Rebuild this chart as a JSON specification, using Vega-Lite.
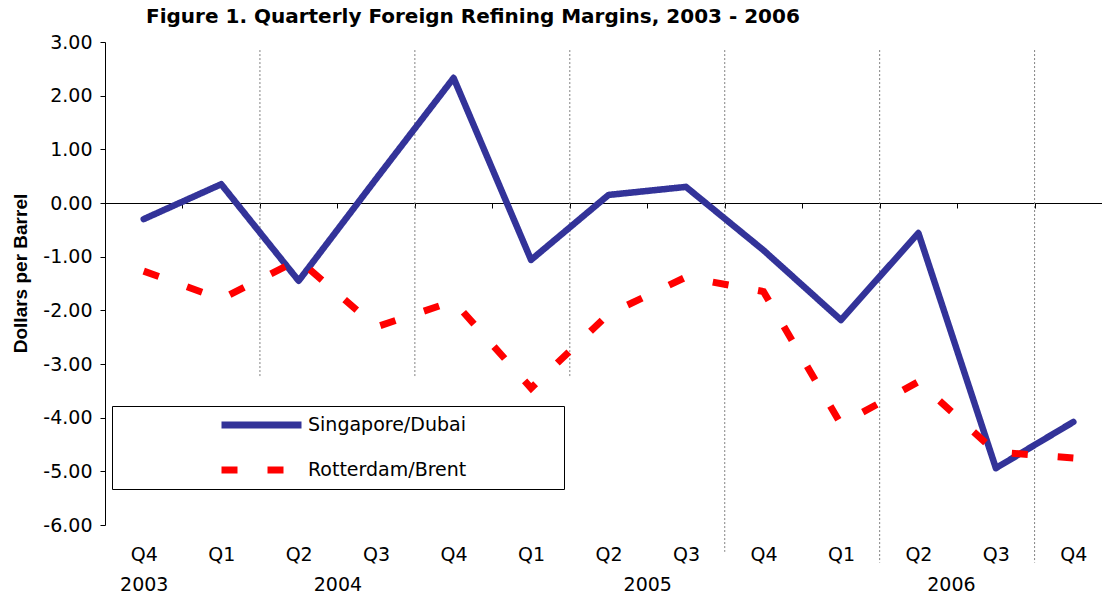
{
  "$schema": "https://vega.github.io/schema/vega-lite/v6.json",
  "width": 997,
  "height": 483,
  "autosize": {"type": "none"},
  "padding": {"left": 105, "top": 42, "right": 0, "bottom": 75},
  "background": "white",
  "config": {
    "font": "DejaVu Sans",
    "view": {"stroke": null},
    "axis": {
      "labelColor": "black",
      "labelFont": "DejaVu Sans",
      "labelFontSize": 19,
      "domainColor": "black",
      "tickColor": "black",
      "grid": false,
      "labelFlush": false,
      "labelOverlap": false,
      "labelBound": false
    },
    "legend": {
      "labelFont": "DejaVu Sans",
      "labelFontSize": 19,
      "labelColor": "black",
      "symbolType": "stroke",
      "symbolSize": 6400,
      "symbolStrokeWidth": 7,
      "clipHeight": 22,
      "rowPadding": 23,
      "labelOffset": 3,
      "symbolOffset": 98,
      "padding": 8,
      "strokeColor": "black",
      "fillColor": "white",
      "titleOrient": "right",
      "titlePadding": 90,
      "titleFontSize": 19
    }
  },
  "title": {
    "text": "Figure 1. Quarterly Foreign Refining Margins, 2003 - 2006",
    "anchor": "start",
    "dx": 135,
    "dy": 26,
    "font": "DejaVu Sans",
    "fontSize": 20,
    "fontWeight": "bold",
    "color": "black",
    "baseline": "alphabetic",
    "offset": 16
  },
  "datasets": {
    "margins": [
      {"t": 0, "quarter": "Q4", "year": "2003", "series": "Singapore/Dubai", "value": -0.30},
      {"t": 1, "quarter": "Q1", "year": "2004", "series": "Singapore/Dubai", "value": 0.35},
      {"t": 2, "quarter": "Q2", "year": "2004", "series": "Singapore/Dubai", "value": -1.45},
      {"t": 3, "quarter": "Q3", "year": "2004", "series": "Singapore/Dubai", "value": 0.45},
      {"t": 4, "quarter": "Q4", "year": "2004", "series": "Singapore/Dubai", "value": 2.33},
      {"t": 5, "quarter": "Q1", "year": "2005", "series": "Singapore/Dubai", "value": -1.06},
      {"t": 6, "quarter": "Q2", "year": "2005", "series": "Singapore/Dubai", "value": 0.15},
      {"t": 7, "quarter": "Q3", "year": "2005", "series": "Singapore/Dubai", "value": 0.30},
      {"t": 8, "quarter": "Q4", "year": "2005", "series": "Singapore/Dubai", "value": -0.88},
      {"t": 9, "quarter": "Q1", "year": "2006", "series": "Singapore/Dubai", "value": -2.18},
      {"t": 10, "quarter": "Q2", "year": "2006", "series": "Singapore/Dubai", "value": -0.56},
      {"t": 11, "quarter": "Q3", "year": "2006", "series": "Singapore/Dubai", "value": -4.94},
      {"t": 12, "quarter": "Q4", "year": "2006", "series": "Singapore/Dubai", "value": -4.08},
      {"t": 0, "quarter": "Q4", "year": "2003", "series": "Rotterdam/Brent", "value": -1.27},
      {"t": 1, "quarter": "Q1", "year": "2004", "series": "Rotterdam/Brent", "value": -1.79},
      {"t": 2, "quarter": "Q2", "year": "2004", "series": "Rotterdam/Brent", "value": -1.06},
      {"t": 3, "quarter": "Q3", "year": "2004", "series": "Rotterdam/Brent", "value": -2.31},
      {"t": 4, "quarter": "Q4", "year": "2004", "series": "Rotterdam/Brent", "value": -1.83},
      {"t": 5, "quarter": "Q1", "year": "2005", "series": "Rotterdam/Brent", "value": -3.45},
      {"t": 6, "quarter": "Q2", "year": "2005", "series": "Rotterdam/Brent", "value": -2.07},
      {"t": 7, "quarter": "Q3", "year": "2005", "series": "Rotterdam/Brent", "value": -1.38},
      {"t": 8, "quarter": "Q4", "year": "2005", "series": "Rotterdam/Brent", "value": -1.65},
      {"t": 9, "quarter": "Q1", "year": "2006", "series": "Rotterdam/Brent", "value": -4.12},
      {"t": 10, "quarter": "Q2", "year": "2006", "series": "Rotterdam/Brent", "value": -3.33},
      {"t": 11, "quarter": "Q3", "year": "2006", "series": "Rotterdam/Brent", "value": -4.64},
      {"t": 12, "quarter": "Q4", "year": "2006", "series": "Rotterdam/Brent", "value": -4.75}
    ],
    "dividers": [
      {"t": 1.5, "top": 2.85, "bottom": -3.25},
      {"t": 3.5, "top": 2.85, "bottom": -3.25},
      {"t": 5.5, "top": 2.85, "bottom": -3.25},
      {"t": 7.5, "top": 2.85, "bottom": -6.5},
      {"t": 9.5, "top": 2.85, "bottom": -6.7},
      {"t": 11.5, "top": 2.85, "bottom": -6.7}
    ]
  },
  "layer": [
    {
      "data": {"name": "dividers"},
      "mark": {"type": "rule", "color": "#808080", "strokeWidth": 1, "strokeDash": [2, 2]},
      "encoding": {
        "x": {
          "field": "t", "type": "quantitative",
          "scale": {"domain": [-0.5, 12.37], "nice": false, "zero": false},
          "axis": {
            "orient": "bottom", "offset": -322, "title": null, "labels": false,
            "values": [-0.5, 0.5, 1.5, 2.5, 3.5, 4.5, 5.5, 6.5, 7.5, 8.5, 9.5, 10.5, 11.5],
            "tickSize": 5, "domainWidth": 1
          }
        },
        "y": {"field": "top", "type": "quantitative", "scale": {"domain": [-6, 3], "nice": false, "zero": false}, "axis": null},
        "y2": {"field": "bottom"}
      }
    },
    {
      "data": {"name": "margins"},
      "transform": [{"filter": "datum.series === 'Singapore/Dubai'"}],
      "mark": {"type": "line", "strokeWidth": 6.5, "strokeCap": "round", "strokeJoin": "round"},
      "encoding": {
        "x": {
          "field": "t", "type": "quantitative",
          "axis": {
            "orient": "bottom", "title": null, "domain": false, "ticks": false, "tickSize": 0,
            "values": [0, 1, 2, 3, 4, 5, 6, 7, 8, 9, 10, 11, 12],
            "labelExpr": "['Q4','Q1','Q2','Q3'][datum.value % 4]",
            "labelBaseline": "alphabetic", "labelPadding": 35
          }
        },
        "y": {
          "field": "value", "type": "quantitative",
          "axis": {
            "orient": "left", "values": [-6, -5, -4, -3, -2, -1, 0, 1, 2, 3],
            "labelExpr": "(datum.value < 0 ? '-' : '') + format(abs(datum.value), '.2f')",
            "tickSize": 5, "labelPadding": 8,
            "title": "Dollars per Barrel", "titleFont": "Liberation Sans", "titleFontSize": 19,
            "titleFontWeight": "bold", "titleColor": "black", "titleX": -79, "titleY": 231,
            "titleBaseline": "alphabetic", "titleAlign": "center", "titleAngle": 270
          }
        },
        "color": {
          "field": "series", "type": "nominal",
          "scale": {"domain": ["Singapore/Dubai", "Rotterdam/Brent"], "range": ["#333399", "#ff0000"]},
          "legend": {"orient": "none", "legendX": 7, "legendY": 364, "title": "\u00a0"}
        },
        "strokeDash": {
          "field": "series", "type": "nominal",
          "scale": {"domain": ["Singapore/Dubai", "Rotterdam/Brent"], "range": [[1, 0], [16, 30]]},
          "legend": {"orient": "none", "legendX": 7, "legendY": 364, "title": "\u00a0"}
        }
      }
    },
    {
      "data": {"name": "margins"},
      "transform": [{"filter": "datum.series === 'Rotterdam/Brent'"}],
      "mark": {"type": "line", "strokeWidth": 7, "strokeCap": "butt"},
      "encoding": {
        "x": {
          "field": "t", "type": "quantitative",
          "axis": {
            "orient": "bottom", "title": null, "domain": false, "ticks": false, "tickSize": 0,
            "values": [0, 2.5, 6.5, 10.42],
            "labelExpr": "datum.value < 1 ? '2003' : datum.value < 4 ? '2004' : datum.value < 8 ? '2005' : '2006'",
            "labelBaseline": "alphabetic", "labelPadding": 65
          }
        },
        "y": {"field": "value", "type": "quantitative", "axis": null},
        "color": {
          "field": "series", "type": "nominal",
          "scale": {"domain": ["Singapore/Dubai", "Rotterdam/Brent"], "range": ["#333399", "#ff0000"]},
          "legend": {"orient": "none", "legendX": 7, "legendY": 364, "title": "\u00a0"}
        },
        "strokeDash": {
          "field": "series", "type": "nominal",
          "scale": {"domain": ["Singapore/Dubai", "Rotterdam/Brent"], "range": [[1, 0], [16, 30]]},
          "legend": {"orient": "none", "legendX": 7, "legendY": 364, "title": "\u00a0"}
        }
      }
    }
  ],
  "resolve": {"axis": {"x": "independent", "y": "independent"}}
}
